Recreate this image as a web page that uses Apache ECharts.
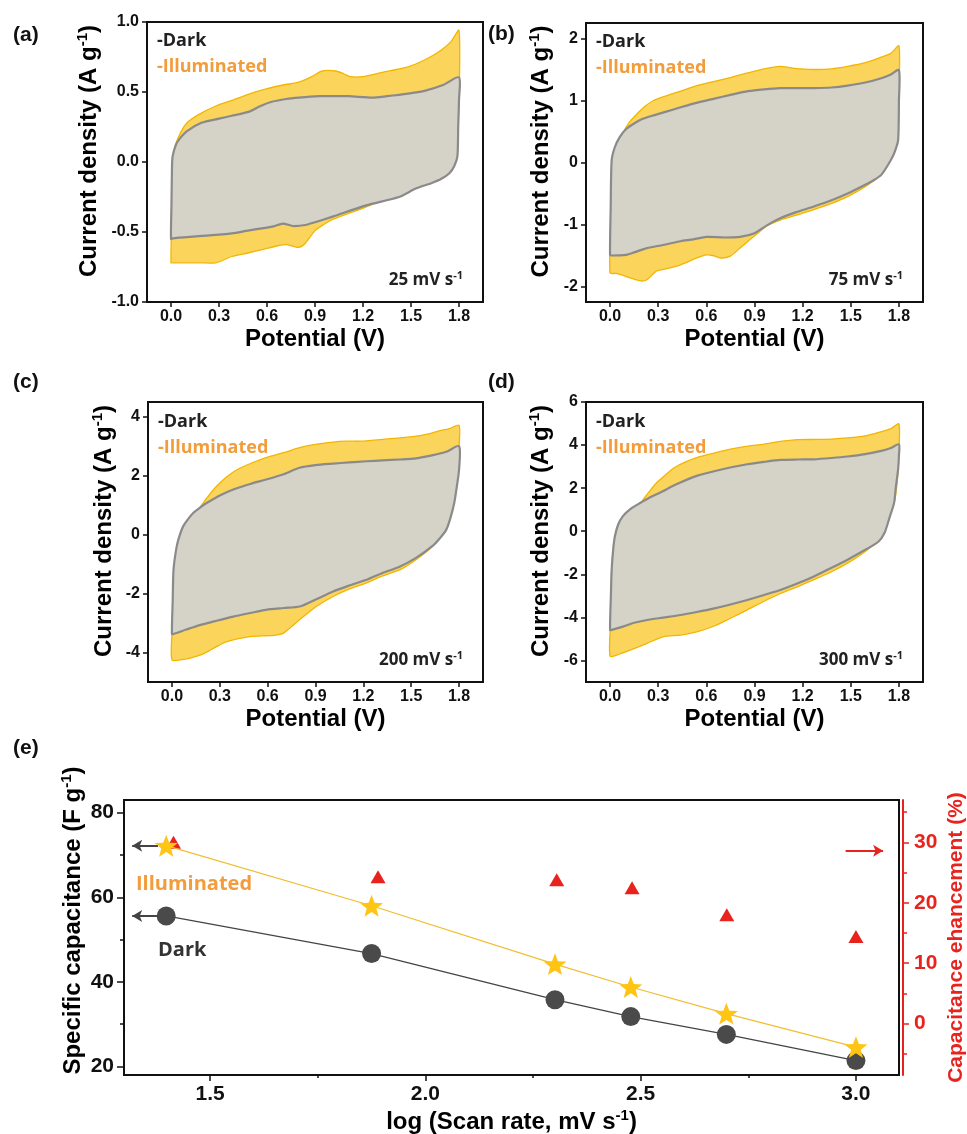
<!DOCTYPE html>
<html><head><meta charset="utf-8">
<script src="https://cdn.jsdelivr.net/npm/echarts@6/dist/echarts.min.js"></script>
<style>html,body{margin:0;padding:0;background:#fff}#c{width:967px;height:1134px}</style>
</head><body><div id="c"></div><script>
// ---------- DATA ----------
// CV loops: [potential (V), current density (A g^-1)], forward sweep then reverse sweep
const aIllum = [[0.00,-0.72],[0.005,-0.40],[0.01,-0.10],[0.02,0.09],[0.06,0.21],[0.10,0.28],[0.175,0.34],[0.28,0.40],[0.38,0.44],[0.50,0.49],[0.59,0.52],[0.70,0.55],[0.80,0.57],[0.88,0.61],[0.945,0.65],[1.03,0.65],[1.08,0.63],[1.12,0.61],[1.20,0.61],[1.32,0.64],[1.45,0.67],[1.53,0.70],[1.62,0.75],[1.69,0.80],[1.75,0.86],[1.80,0.94],
  [1.80,0.44],[1.79,0.20],[1.77,0.01],[1.72,-0.08],[1.63,-0.105],[1.53,-0.16],[1.425,-0.22],[1.22,-0.32],[1.01,-0.41],[0.95,-0.45],[0.90,-0.49],[0.84,-0.58],[0.80,-0.61],[0.76,-0.60],[0.72,-0.59],[0.66,-0.60],[0.59,-0.62],[0.48,-0.65],[0.38,-0.675],[0.28,-0.72],[0.175,-0.72],[0.01,-0.72]];
const aDark = [[0.00,-0.55],[0.003,-0.30],[0.006,-0.05],[0.01,0.04],[0.03,0.12],[0.05,0.16],[0.10,0.22],[0.19,0.28],[0.30,0.31],[0.38,0.33],[0.49,0.36],[0.56,0.40],[0.63,0.43],[0.72,0.45],[0.80,0.46],[0.925,0.47],[1.02,0.47],[1.11,0.47],[1.26,0.46],[1.35,0.47],[1.425,0.48],[1.52,0.495],[1.59,0.51],[1.70,0.55],[1.80,0.605],
  [1.80,0.445],[1.795,0.25],[1.79,0.04],[1.77,-0.03],[1.74,-0.08],[1.69,-0.12],[1.63,-0.15],[1.53,-0.19],[1.425,-0.25],[1.22,-0.31],[1.01,-0.39],[0.90,-0.43],[0.84,-0.45],[0.76,-0.457],[0.70,-0.44],[0.64,-0.46],[0.59,-0.47],[0.48,-0.49],[0.38,-0.51],[0.175,-0.53],[0.01,-0.545]];
const bIllum = [[0.00,-1.78],[0.005,-1.0],[0.01,-0.3],[0.02,0.04],[0.05,0.28],[0.08,0.47],[0.12,0.65],[0.17,0.79],[0.22,0.91],[0.27,1.00],[0.355,1.08],[0.45,1.16],[0.54,1.24],[0.65,1.31],[0.75,1.37],[0.85,1.44],[0.96,1.51],[1.06,1.55],[1.12,1.53],[1.19,1.51],[1.28,1.50],[1.38,1.51],[1.48,1.55],[1.59,1.61],[1.69,1.70],[1.75,1.76],[1.80,1.88],
  [1.80,1.2],[1.795,0.7],[1.785,0.36],[1.765,0.18],[1.74,0.04],[1.69,-0.18],[1.64,-0.30],[1.59,-0.39],[1.48,-0.55],[1.38,-0.66],[1.27,-0.76],[1.16,-0.85],[1.06,-0.93],[0.98,-1.02],[0.92,-1.14],[0.86,-1.27],[0.81,-1.38],[0.75,-1.51],[0.69,-1.54],[0.64,-1.50],[0.60,-1.49],[0.54,-1.54],[0.44,-1.65],[0.34,-1.72],[0.29,-1.75],[0.23,-1.89],[0.19,-1.91],[0.125,-1.86],[0.04,-1.79]];
const bDark = [[0.00,-1.49],[0.004,-0.7],[0.01,0.04],[0.03,0.25],[0.06,0.41],[0.10,0.54],[0.15,0.63],[0.20,0.70],[0.27,0.76],[0.35,0.82],[0.44,0.89],[0.55,0.97],[0.65,1.03],[0.75,1.09],[0.86,1.15],[0.96,1.18],[1.06,1.20],[1.17,1.20],[1.27,1.20],[1.38,1.21],[1.48,1.24],[1.59,1.29],[1.69,1.36],[1.75,1.42],[1.80,1.49],
  [1.80,1.0],[1.795,0.36],[1.775,0.18],[1.75,0.04],[1.69,-0.20],[1.64,-0.29],[1.59,-0.36],[1.48,-0.50],[1.38,-0.61],[1.27,-0.71],[1.16,-0.80],[1.06,-0.90],[0.98,-1.01],[0.90,-1.14],[0.81,-1.20],[0.71,-1.21],[0.60,-1.20],[0.52,-1.24],[0.44,-1.27],[0.33,-1.33],[0.23,-1.38],[0.15,-1.45],[0.10,-1.49],[0.01,-1.50]];
const cIllum = [[0.00,-4.25],[0.005,-3.0],[0.01,-2.0],[0.02,-1.2],[0.03,-0.62],[0.06,-0.1],[0.09,0.28],[0.13,0.60],[0.18,0.96],[0.23,1.32],[0.28,1.64],[0.34,1.95],[0.41,2.21],[0.50,2.43],[0.59,2.61],[0.70,2.78],[0.80,2.95],[0.90,3.06],[1.01,3.14],[1.10,3.17],[1.18,3.17],[1.32,3.23],[1.43,3.28],[1.53,3.34],[1.60,3.41],[1.67,3.51],[1.74,3.60],[1.80,3.71],
  [1.80,3.0],[1.79,2.21],[1.76,1.08],[1.73,0.50],[1.70,0.06],[1.66,-0.25],[1.61,-0.51],[1.53,-0.85],[1.43,-1.19],[1.32,-1.40],[1.22,-1.64],[1.11,-1.85],[1.01,-2.10],[0.905,-2.44],[0.85,-2.67],[0.80,-2.89],[0.75,-3.12],[0.70,-3.34],[0.64,-3.42],[0.59,-3.43],[0.49,-3.46],[0.385,-3.57],[0.33,-3.66],[0.28,-3.80],[0.23,-3.95],[0.18,-4.08],[0.12,-4.18],[0.07,-4.23]];
const cDark = [[0.00,-3.37],[0.005,-2.2],[0.01,-1.19],[0.03,-0.40],[0.05,0.0],[0.07,0.28],[0.10,0.52],[0.135,0.74],[0.18,0.93],[0.22,1.08],[0.30,1.33],[0.385,1.53],[0.49,1.72],[0.59,1.87],[0.70,2.05],[0.80,2.27],[0.90,2.36],[1.01,2.41],[1.11,2.45],[1.22,2.49],[1.32,2.52],[1.43,2.55],[1.53,2.59],[1.63,2.69],[1.72,2.81],[1.80,3.00],
  [1.80,2.21],[1.785,1.6],[1.77,1.08],[1.745,0.55],[1.72,0.17],[1.68,-0.12],[1.63,-0.40],[1.53,-0.79],[1.43,-1.08],[1.32,-1.30],[1.22,-1.53],[1.11,-1.73],[1.01,-1.93],[0.905,-2.19],[0.80,-2.44],[0.70,-2.49],[0.59,-2.55],[0.49,-2.66],[0.385,-2.78],[0.28,-2.92],[0.18,-3.06],[0.09,-3.22],[0.01,-3.37]];
const dIllum = [[0.00,-5.8],[0.005,-4.0],[0.01,-1.79],[0.02,-0.9],[0.04,-0.23],[0.07,0.30],[0.10,0.70],[0.15,1.05],[0.19,1.32],[0.24,1.80],[0.29,2.25],[0.35,2.65],[0.40,2.95],[0.47,3.22],[0.54,3.42],[0.65,3.63],[0.75,3.81],[0.86,3.95],[0.96,4.04],[1.06,4.17],[1.17,4.25],[1.27,4.26],[1.38,4.28],[1.48,4.33],[1.59,4.43],[1.69,4.62],[1.75,4.76],[1.80,4.98],
  [1.80,3.8],[1.795,2.88],[1.785,2.0],[1.77,1.32],[1.74,0.65],[1.71,0.08],[1.67,-0.35],[1.63,-0.70],[1.56,-1.10],[1.48,-1.48],[1.38,-1.88],[1.27,-2.25],[1.17,-2.57],[1.065,-2.88],[0.96,-3.25],[0.855,-3.65],[0.75,-4.04],[0.65,-4.40],[0.54,-4.67],[0.44,-4.82],[0.33,-4.90],[0.23,-5.21],[0.125,-5.52],[0.06,-5.70]];
const dDark = [[0.00,-4.59],[0.005,-3.0],[0.01,-1.79],[0.02,-0.8],[0.03,-0.23],[0.05,0.30],[0.08,0.70],[0.13,1.05],[0.19,1.32],[0.25,1.58],[0.31,1.79],[0.42,2.20],[0.54,2.57],[0.70,2.88],[0.855,3.11],[0.96,3.22],[1.065,3.31],[1.17,3.33],[1.27,3.34],[1.38,3.40],[1.48,3.47],[1.59,3.58],[1.69,3.73],[1.75,3.86],[1.80,4.04],
  [1.80,3.5],[1.795,2.88],[1.78,2.0],[1.77,1.32],[1.74,0.60],[1.71,-0.08],[1.67,-0.50],[1.59,-0.86],[1.48,-1.32],[1.38,-1.70],[1.27,-2.10],[1.17,-2.42],[1.065,-2.72],[0.96,-2.96],[0.855,-3.19],[0.75,-3.40],[0.65,-3.58],[0.54,-3.75],[0.44,-3.89],[0.33,-4.01],[0.23,-4.12],[0.15,-4.25],[0.08,-4.43],[0.01,-4.58]];

const scanRates = ['25', '75', '200', '300'];
const potentialTicks = [0, 0.3, 0.6, 0.9, 1.2, 1.5, 1.8];
const cvYTicks = [[-1, -0.5, 0, 0.5, 1], [-2, -1, 0, 1, 2], [-4, -2, 0, 2, 4], [-6, -4, -2, 0, 2, 4, 6]];
const cvYRange = [[-1, 1], [-2.25, 2.25], [-5, 4.5], [-7, 6]];

// Panel (e)
const logRate = [1.398, 1.875, 2.301, 2.477, 2.699, 3.0];
const darkCap = [55.6, 46.7, 35.8, 31.8, 27.6, 21.4];
const illumCap = [72.2, 58.0, 44.2, 38.8, 32.5, 24.6];
const enhX = [1.415, 1.89, 2.305, 2.48, 2.70, 3.0];
const enhancement = [30.0, 24.3, 23.8, 22.5, 18.0, 14.4];
const eXTicks = [1.5, 2.0, 2.5, 3.0];
const eXMinor = [1.75, 2.25, 2.75];
const eYTicks = [20, 40, 60, 80];
const eYMinor = [30, 50, 70];
const eRTicks = [0, 10, 20, 30];
const eRMinor = [-5, 5, 15, 25, 35];

// ---------- STYLE ----------
const FF = '"Liberation Sans", Arial, sans-serif';
const OF = '"Open Sans", sans-serif';
const ORANGE = '#F39C3C';
const RED = '#E8231E';
const YFILL = '#FBD45C', YLINE = '#F2B600';
const GFILL = '#D5D2C7', GLINE = '#8A8A8A';

const cvLoops = [[aIllum, aDark], [bIllum, bDark], [cIllum, cDark], [dIllum, dDark]];
const cvGrids = [
  {left: 147, top: 22, width: 336, height: 280},
  {left: 586, top: 23, width: 337, height: 279},
  {left: 148, top: 402, width: 335, height: 280},
  {left: 586, top: 402, width: 337, height: 280}
];
const cvYGap = [44, 31, 30, 31];

const grids = [], xAxes = [], yAxes = [], series = [], graphics = [];
const supRich = (fs) => ({s: {fontSize: fs, fontWeight: 'bold', fontFamily: FF, color: '#000', verticalAlign: 'top', lineHeight: fs + 1}});
const blackLine = {onZero: false, lineStyle: {color: '#111', width: 2}};
const titleStyle = (pad) => ({fontSize: 24, fontWeight: 'bold', fontFamily: FF, color: '#000', lineHeight: 28, padding: pad, rich: supRich(15)});

cvGrids.forEach((g, i) => {
  grids.push(Object.assign({show: true, borderColor: '#111', borderWidth: 2, backgroundColor: 'transparent', outerBoundsMode: 'none'}, g));
  xAxes.push({
    gridIndex: i, type: 'value', min: -0.15, max: 1.95, position: 'bottom',
    name: 'Potential (V)', nameLocation: 'middle', nameGap: 25, nameMoveOverlap: false,
    nameTextStyle: {fontSize: 24, fontWeight: 'bold', fontFamily: FF, color: '#000'},
    axisLine: blackLine,
    axisTick: {length: 5, lineStyle: {color: '#111', width: 1.5}, customValues: potentialTicks},
    axisLabel: {customValues: potentialTicks, margin: 7, fontSize: 16, fontWeight: 'bold', fontFamily: FF, color: '#111', formatter: v => v.toFixed(1)},
    splitLine: {show: false}
  });
  yAxes.push({
    gridIndex: i, type: 'value', min: cvYRange[i][0], max: cvYRange[i][1], position: 'left',
    name: 'Current density (A g{s|-1})', nameLocation: 'middle', nameRotate: 90, nameGap: cvYGap[i], nameMoveOverlap: false,
    nameTextStyle: titleStyle([0, 0, 0, 22]),
    axisLine: blackLine,
    axisTick: {length: 5, lineStyle: {color: '#111', width: 1.5}, customValues: cvYTicks[i]},
    axisLabel: {customValues: cvYTicks[i], margin: 8, fontSize: 16, fontWeight: 'bold', fontFamily: FF, color: '#111',
      formatter: v => i === 0 ? v.toFixed(1) : String(v)},
    splitLine: {show: false}
  });
  const loopSeries = (pts, fill, stroke, lw, z) => ({
    type: 'custom', xAxisIndex: i, yAxisIndex: i, data: pts, z: z, silent: true,
    renderItem: function (params, api) {
      if (params.dataIndex !== 0) return null;
      const points = pts.map(p => api.coord(p));
      return {type: 'polygon', shape: {points: points, smooth: 0.25}, style: {fill: fill, stroke: stroke, lineWidth: lw}};
    }
  });
  series.push(loopSeries(cvLoops[i][0], YFILL, YLINE, 1.3, 2));
  series.push(loopSeries(cvLoops[i][1], GFILL, GLINE, 2.2, 3));

  // annotations
  const lx = g.left + 10;
  const ty = g.top + (i < 2 ? 19 : 20);
  graphics.push({type: 'text', x: lx, y: ty, z: 10, style: {text: '-Dark', fontSize: 18, fontWeight: 'bold', fontFamily: OF, fill: '#222', verticalAlign: 'middle'}});
  graphics.push({type: 'text', x: lx, y: ty + 26, z: 10, style: {text: '-Illuminated', fontSize: 18, fontWeight: 'bold', fontFamily: OF, fill: ORANGE, verticalAlign: 'middle'}});
  graphics.push({type: 'text', x: g.left + g.width - 20, y: g.top + g.height - 22, z: 10,
    style: {text: '{b|' + scanRates[i] + ' mV s}{s|-1}', align: 'right', verticalAlign: 'middle',
      rich: {b: {fontSize: 17, fontWeight: 'bold', fontFamily: OF, fill: '#222', color: '#222', lineHeight: 20},
             s: {fontSize: 11, fontWeight: 'bold', fontFamily: OF, fill: '#222', color: '#222', verticalAlign: 'top', lineHeight: 11}}}});
});

// panel labels
[['(a)', 13, 35], ['(b)', 488, 34], ['(c)', 13, 382], ['(d)', 488, 382], ['(e)', 13, 748]].forEach(p => {
  graphics.push({type: 'text', x: p[1], y: p[2], style: {text: p[0], fontSize: 21, fontWeight: 'bold', fontFamily: FF, fill: '#111', verticalAlign: 'middle'}});
});

// ---------- Panel (e) ----------
grids.push({show: true, borderColor: '#111', borderWidth: 2, backgroundColor: 'transparent', outerBoundsMode: 'none', left: 124, top: 800, width: 775, height: 275});
const EG = 4;
xAxes.push({
  gridIndex: EG, type: 'value', min: 1.3, max: 3.1, position: 'bottom',
  name: 'log (Scan rate, mV s{s|-1})', nameLocation: 'middle', nameGap: 33, nameMoveOverlap: false,
  nameTextStyle: titleStyle(0),
  axisLine: blackLine,
  axisTick: {length: 6, lineStyle: {color: '#111', width: 1.5}, customValues: eXTicks},
  axisLabel: {customValues: eXTicks, margin: 9, fontSize: 21, fontWeight: 'bold', fontFamily: FF, color: '#111', formatter: v => v.toFixed(1)},
  splitLine: {show: false}
});
xAxes.push({
  gridIndex: EG, type: 'value', min: 1.3, max: 3.1, position: 'bottom',
  axisLine: {show: false, onZero: false}, axisLabel: {show: false}, splitLine: {show: false},
  axisTick: {length: 3, lineStyle: {color: '#111', width: 1.5}, customValues: eXMinor}
});
yAxes.push({
  gridIndex: EG, type: 'value', min: 18, max: 83, position: 'left',
  name: 'Specific capacitance (F g{s|-1})', nameLocation: 'middle', nameRotate: 90, nameGap: 37, nameMoveOverlap: false,
  nameTextStyle: titleStyle([0, 0, 0, 34]),
  axisLine: blackLine,
  axisTick: {length: 7, lineStyle: {color: '#111', width: 1.5}, customValues: eYTicks},
  axisLabel: {customValues: eYTicks, margin: 10, fontSize: 21, fontWeight: 'bold', fontFamily: FF, color: '#111'},
  splitLine: {show: false}
});
yAxes.push({
  gridIndex: EG, type: 'value', min: -8.5, max: 37, position: 'right', offset: 4,
  name: 'Capacitance ehancement (%)', nameLocation: 'middle', nameRotate: 90, nameGap: 43, nameMoveOverlap: false,
  nameTextStyle: {fontSize: 21, fontWeight: 'bold', fontFamily: FF, color: RED},
  axisLine: {show: true, onZero: false, lineStyle: {color: RED, width: 2}},
  axisTick: {length: 6, lineStyle: {color: RED, width: 1.5}, customValues: eRTicks},
  axisLabel: {customValues: eRTicks, margin: 11, fontSize: 21, fontWeight: 'bold', fontFamily: FF, color: RED},
  splitLine: {show: false}
});
yAxes.push({
  gridIndex: EG, type: 'value', min: 18, max: 83, position: 'left',
  axisLine: {show: false, onZero: false}, axisLabel: {show: false}, splitLine: {show: false},
  axisTick: {length: 4, lineStyle: {color: '#111', width: 1.5}, customValues: eYMinor}
});
yAxes.push({
  gridIndex: EG, type: 'value', min: -8.5, max: 37, position: 'right', offset: 4,
  axisLine: {show: false, onZero: false}, axisLabel: {show: false}, splitLine: {show: false},
  axisTick: {length: 4, lineStyle: {color: RED, width: 1.5}, customValues: eRMinor}
});

const STAR = 'path://M0,-10 L2.47,-3.40 L9.51,-3.09 L3.99,1.30 L5.88,8.09 L0,4.2 L-5.88,8.09 L-3.99,1.30 L-9.51,-3.09 L-2.47,-3.40 Z';

series.push({
  type: 'scatter', xAxisIndex: 4, yAxisIndex: 5, z: 3,
  data: enhX.map((x, k) => [x, enhancement[k]]),
  symbol: 'triangle', symbolSize: [15, 13], itemStyle: {color: RED, opacity: 1},
  markLine: {silent: true, symbol: ['none', 'arrow'], symbolSize: [9, 10], label: {show: false},
    lineStyle: {color: RED, width: 2, type: 'solid', opacity: 1},
    data: [[{coord: [2.976, 28.6]}, {coord: [3.063, 28.6]}]]}
});
series.push({
  type: 'line', xAxisIndex: 4, yAxisIndex: 4, z: 4,
  data: logRate.map((x, k) => [x, darkCap[k]]),
  symbol: 'circle', symbolSize: 19, itemStyle: {color: '#4A4A4A', opacity: 1},
  lineStyle: {color: '#444', width: 1.2},
  markLine: {silent: true, symbol: ['arrow', 'none'], symbolSize: [9, 10], label: {show: false},
    lineStyle: {color: '#444', width: 2, type: 'solid', opacity: 1},
    data: [[{coord: [1.319, illumCap[0]]}, {coord: [1.379, illumCap[0]]}],
           [{coord: [1.319, darkCap[0]]}, {coord: [1.379, darkCap[0]]}]]}
});
series.push({
  type: 'line', xAxisIndex: 4, yAxisIndex: 4, z: 5,
  data: logRate.map((x, k) => [x, illumCap[k]]),
  symbol: STAR, symbolKeepAspect: true, symbolSize: 23, itemStyle: {color: '#FFC414', opacity: 1},
  lineStyle: {color: '#F0BE30', width: 1.2}
});

graphics.push({type: 'text', x: 136, y: 884, style: {text: 'Illuminated', fontSize: 20, fontWeight: 'bold', fontFamily: OF, fill: ORANGE, verticalAlign: 'middle'}});
graphics.push({type: 'text', x: 158, y: 950, style: {text: 'Dark', fontSize: 20, fontWeight: 'bold', fontFamily: OF, fill: '#333', verticalAlign: 'middle'}});

const chart = echarts.init(document.getElementById('c'), null, {renderer: 'canvas'});
chart.setOption({
  animation: false,
  backgroundColor: '#fff',
  grid: grids, xAxis: xAxes, yAxis: yAxes, series: series,
  graphic: graphics
});
</script></body></html>
